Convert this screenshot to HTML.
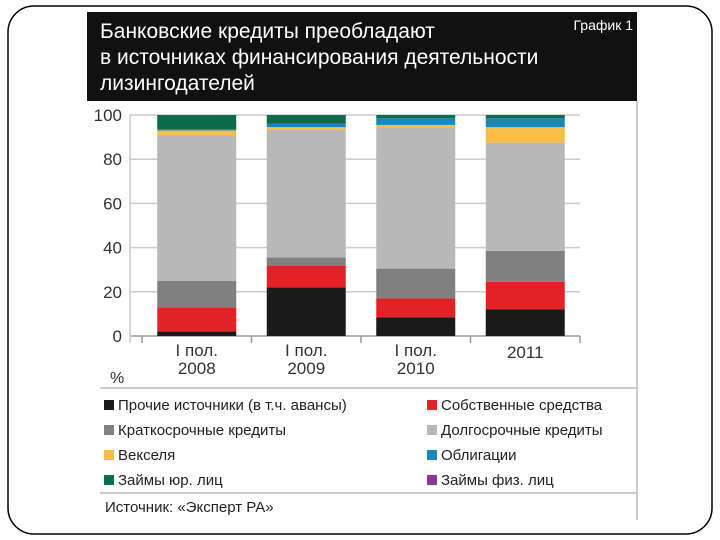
<!DOCTYPE html>
<html><head><meta charset="utf-8"><style>
body{margin:0;width:720px;height:540px;background:#fff;overflow:hidden;font-family:"Liberation Sans","DejaVu Sans",sans-serif}
</style></head><body>
<svg width="720" height="540" style="position:absolute;left:0;top:0">
<rect x="8" y="6" width="704" height="528" rx="26" fill="none" stroke="#000" stroke-width="1.5"/>
<rect x="87" y="12" width="550" height="89" fill="#111"/>
<text x="100" y="38" fill="#fff" font-size="21">Банковские кредиты преобладают</text>
<text x="100" y="64" fill="#fff" font-size="21">в источниках финансирования деятельности</text>
<text x="100" y="90" fill="#fff" font-size="21">лизингодателей</text>
<text x="633" y="30" fill="#fff" font-size="14" text-anchor="end">График 1</text>
<line x1="637" y1="101" x2="637" y2="520" stroke="#bbb" stroke-width="1.5"/>
<g id="grid"></g><g id="bars"></g><g id="axis"></g>
<text x="110" y="383" font-size="16" fill="#333">%</text>
<line x1="100" y1="388" x2="637" y2="388" stroke="#bbb" stroke-width="1.5"/>
<g id="legend"></g>
<line x1="100" y1="493" x2="637" y2="493" stroke="#bbb" stroke-width="1.5"/>
<text x="105" y="512" font-size="15" fill="#222">Источник: «Эксперт РА»</text>
</svg>
<script>
const categories=[["I пол.","2008"],["I пол.","2009"],["I пол.","2010"],["2011"]];
const seriesNames=["Прочие источники (в т.ч. авансы)","Собственные средства","Краткосрочные кредиты","Долгосрочные кредиты","Векселя","Облигации","Займы юр. лиц","Займы физ. лиц"];
const seriesColors=["#1a1a1a","#e32227","#808080","#b8b8b8","#fbbd45","#1b86b8","#0c6b4a","#8e3a95"];
const other=[2,22,8.5,12];
const own=[11,10,8.5,12.5];
const shortCredit=[12,3.5,13.5,14];
const longCredit=[66,58,64,49];
const bills=[2,1,1,7];
const bonds=[0.5,1.5,3,4];
const corpLoans=[6.5,4,1.5,1.5];
const personLoans=[0,0,0,0];
const yTicks=[0,20,40,60,80,100];
const series=[other,own,shortCredit,longCredit,bills,bonds,corpLoans,personLoans];
const NS="http://www.w3.org/2000/svg";
const y0=336,y100=115,xl=130,xr=580,barW=79;
const yScale=v=>y0-(y0-y100)*v/100;
const xs0=142,step=109.5;
const xCenter=i=>xs0+step*(i+0.5);
function mk(tag,attrs,parent){const e=document.createElementNS(NS,tag);for(const k in attrs)e.setAttribute(k,attrs[k]);parent.appendChild(e);return e;}
const grid=document.getElementById('grid'),bars=document.getElementById('bars'),axis=document.getElementById('axis'),legend=document.getElementById('legend');
yTicks.forEach(t=>{
 const l=mk('line',{x1:xl,x2:xr,y1:yScale(t),y2:yScale(t),stroke:t===0?'#999':'#ccc','stroke-width':1.5},grid);
 
 
 const tx=mk('text',{x:122,y:yScale(t)+6,'text-anchor':'end','font-size':17,fill:'#333'},axis);
 tx.textContent=t;
 
 
});
mk('line',{x1:xl,x2:xl,y1:y100,y2:y0+7,stroke:'#ccc','stroke-width':1.5},grid);
for(let i=0;i<=categories.length;i++){mk('line',{x1:xs0+step*i,x2:xs0+step*i,y1:y0,y2:y0+7,stroke:'#999','stroke-width':1.5},axis);}
categories.forEach((c,i)=>{
 let acc=0;
 series.forEach((s,k)=>{
  const v=s[i];if(v<=0){acc+=v;return;}
  const r=mk('rect',{x:xCenter(i)-barW/2,width:barW,y:yScale(acc+v),height:yScale(acc)-yScale(acc+v),fill:seriesColors[k]},bars);
  
  
  acc+=v;
 });
 const ys=c.length===2?[356,374]:[358];
 c.forEach((ln,j)=>{
  const t=mk('text',{x:xCenter(i),y:ys[j],'text-anchor':'middle','font-size':17,fill:'#333'},axis);
  t.textContent=ln;
  
  
 });
});
seriesNames.forEach((n,k)=>{
 const col=k%2,row=Math.floor(k/2);
 const x=col?427:104,y=405+row*25;
 const sq=mk('rect',{x:x,y:y-5,width:10,height:10,fill:seriesColors[k]},legend);
 
 
 const t=mk('text',{x:x+14,y:y+5,'font-size':15,fill:'#222'},legend);
 t.textContent=n;
 
 
});
</script>
</body></html>
